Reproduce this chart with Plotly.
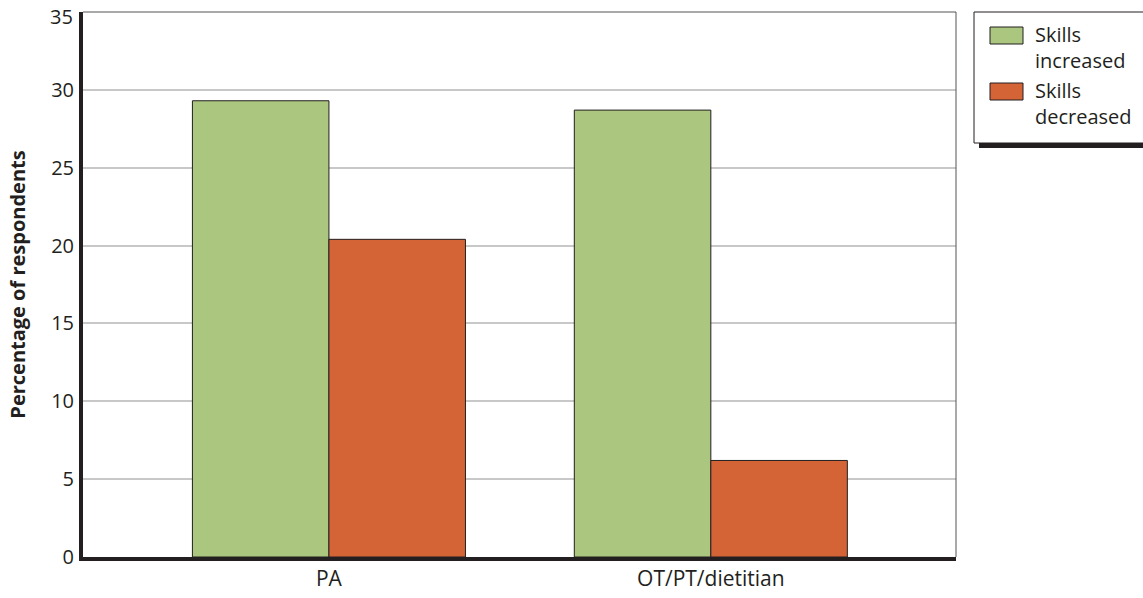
import plotly.graph_objects as go

# Share of respondents reporting a change in skills, by profession
categories = ["PA", "OT/PT/dietitian"]
skills_increased = [29.3, 28.7]
skills_decreased = [20.4, 6.2]
series_names = ["Skills<br>increased", "Skills<br>decreased"]
y_ticks = [0, 5, 10, 15, 20, 25, 30, 35]

GREEN = "#abc67f"
ORANGE = "#d46436"
INK = "#231f20"
FONT = "Open Sans, Noto Sans, sans-serif"

W, H = 1143, 598
M_L, M_R, M_T, M_B = 83, 187, 12, 41
PW, PH = W - M_L - M_R, H - M_T - M_B


def px_x(x):
    """Pixel column -> paper x."""
    return (x - M_L) / PW


def px_y(y):
    """Pixel row -> paper y."""
    return (H - M_B - y) / PH


fig = go.Figure()
for vals, color in [(skills_increased, GREEN), (skills_decreased, ORANGE)]:
    fig.add_trace(go.Bar(
        x=categories, y=vals,
        marker=dict(color=color, line=dict(color=INK, width=1)),
        showlegend=False,
    ))

shapes = []
# thin top and right frame lines
shapes.append(dict(type="line", xref="paper", yref="paper", x0=0, x1=1, y0=1, y1=1,
                   line=dict(color="#555555", width=1)))
shapes.append(dict(type="line", xref="paper", yref="paper", x0=1, x1=1, y0=0, y1=1,
                   line=dict(color="#555555", width=1)))

# legend box with drop shadow
shapes.append(dict(type="rect", xref="paper", yref="paper",
                   x0=px_x(979), x1=px_x(1160), y0=px_y(148), y1=px_y(17),
                   line=dict(width=0), fillcolor=INK))
shapes.append(dict(type="rect", xref="paper", yref="paper",
                   x0=px_x(974), x1=px_x(1155), y0=px_y(143), y1=px_y(12),
                   line=dict(color=INK, width=1), fillcolor="white"))

annotations = []
swatch_tops = [27, 83]
for name, color, top in zip(series_names, [GREEN, ORANGE], swatch_tops):
    shapes.append(dict(type="rect", xref="paper", yref="paper",
                       x0=px_x(990), x1=px_x(1023), y0=px_y(top + 17), y1=px_y(top),
                       line=dict(color=INK, width=1), fillcolor=color))
    annotations.append(dict(xref="paper", yref="paper", x=px_x(1033), y=px_y(top - 8),
                            text=name, showarrow=False, xanchor="left", yanchor="top",
                            align="left", font=dict(family=FONT, size=20, color=INK)))

# the top tick label sits just inside the figure edge
top_tick = y_ticks[-1]
annotations.append(dict(xref="paper", yref="y", x=px_x(75), y=top_tick, yshift=-4,
                        text=str(top_tick), showarrow=False, xanchor="right",
                        yanchor="middle", font=dict(family=FONT, size=20, color=INK)))

fig.update_layout(
    width=W, height=H,
    margin=dict(l=M_L, r=M_R, t=M_T, b=M_B, autoexpand=False),
    paper_bgcolor="white", plot_bgcolor="white",
    barmode="group", bargap=0.285, bargroupgap=0,
    font=dict(family=FONT, size=20, color=INK),
    shapes=shapes, annotations=annotations,
    xaxis=dict(
        type="category", range=[-0.644, 1.642], automargin=False,
        showline=True, linecolor=INK, linewidth=4,
        showgrid=False, ticks="", zeroline=False,
        tickfont=dict(family=FONT, size=21, color=INK),
    ),
    yaxis=dict(
        range=[0, 35], tickvals=y_ticks,
        ticktext=[str(v) if v != top_tick else "" for v in y_ticks],
        automargin=False,
        showline=True, linecolor=INK, linewidth=4,
        showgrid=True, gridcolor="#c8c8c8", gridwidth=1.5,
        zeroline=False, ticks="", ticklabelstandoff=1,
        tickfont=dict(family=FONT, size=20, color=INK),
        title=dict(text="<b>Percentage of respondents</b>", standoff=21,
                   font=dict(family=FONT, size=20, color=INK)),
    ),
)

fig.write_html("out.html")
